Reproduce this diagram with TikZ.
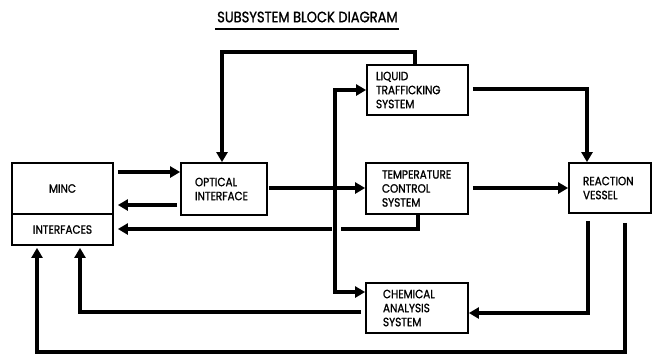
\documentclass[tikz,border=0pt]{standalone}
\usepackage{fontspec}
\setmainfont{Poppins}[FakeStretch=0.87, FakeBold=1.2]
\usetikzlibrary{arrows.meta}
\begin{document}
\begin{tikzpicture}[x=1pt,y=-1pt,
  box/.style={draw, line width=1.8pt, rectangle, inner ysep=0pt, align=left,
    font=\fontsize{12}{14}\selectfont},
  conn/.style={line width=3.4pt},
  arr/.style={conn, -{Triangle[length=10pt,width=11pt]}},
]
\useasboundingbox (0,0) rectangle (653,354);

% title
\node[anchor=west, inner sep=0pt, font=\fontsize{15}{18}\selectfont] (title) at (217,17) {SUBSYSTEM BLOCK DIAGRAM};
\draw[line width=1.5pt] ([xshift=-2pt]title.west |- 0,29) -- ([xshift=1pt]title.east |- 0,29);

% boxes
\node[box, minimum width=101pt, minimum height=50pt, inner xsep=9pt, text width=83pt] (liquid) at (417.5,90) {LIQUID\\TRAFFICKING\\SYSTEM};
\node[box, minimum width=102pt, minimum height=51pt, inner xsep=16pt, text width=70pt] (temp) at (417,188.5) {TEMPERATURE\\CONTROL\\SYSTEM};
\node[box, minimum width=102pt, minimum height=50pt, inner xsep=17pt, text width=68pt] (chem) at (417,308) {CHEMICAL\\ANALYSIS\\SYSTEM};
\node[box, minimum width=82pt, minimum height=50pt, inner xsep=14pt, text width=54pt] (reaction) at (610,188) {REACTION\\VESSEL};
\node[box, minimum width=86pt, minimum height=52pt, inner xsep=14pt, text width=58pt] (optical) at (224,189) {OPTICAL\\INTERFACE};
\node[box, minimum width=101pt, minimum height=51pt, align=center, inner xsep=0pt] (minc) at (62.5,188.5) {MINC};
\node[box, minimum width=101pt, minimum height=31pt, align=center, inner xsep=0pt] (interf) at (62.5,229.5) {INTERFACES};

% coordinates
\coordinate (vt) at (335,90);
\coordinate (vb) at (335,292);
\coordinate (g1) at (341,229);
\coordinate (g2) at (332,229);

% connectors
\draw[arr, shorten <=4pt] (minc.east |- 0,172) -- (optical.west |- 0,172);
\draw[arr, shorten <=3pt, shorten >=4pt] (optical.west |- 0,205) -- (minc.east |- 0,205);
\draw[arr, shorten <=1pt] (optical.east |- 0,188) -- (temp.west |- 0,188);
\draw[arr] (vb) -- (vt) -- (liquid.west |- vt);
\draw[arr] (vt) -- (vb) -- (chem.west |- vb);
\draw[arr, shorten <=4pt] (liquid.east |- 0,89) -| (reaction.north -| 587,0);
\draw[arr] (liquid.north -| 415,0) |- (222,52) -- (optical.north -| 222,0);
\draw[arr, shorten <=4pt] (temp.east |- 0,188) -- (reaction.west |- 0,188);
\draw[conn] (temp.south -| 418,0) |- (g1);
\draw[arr, shorten >=4pt] (g2) -- (interf.east |- g2);
\draw[arr, shorten <=7pt] (reaction.south -| 588,0) |- (chem.east |- 0,313);
\draw[arr, shorten <=4pt, shorten >=2pt] (chem.west |- 0,312) -| (interf.south -| 80,0);
\draw[arr, shorten <=9pt, shorten >=2pt] (reaction.south -| 625,0) -- (625,352) -| (interf.south -| 37,0);
\end{tikzpicture}
\end{document}
